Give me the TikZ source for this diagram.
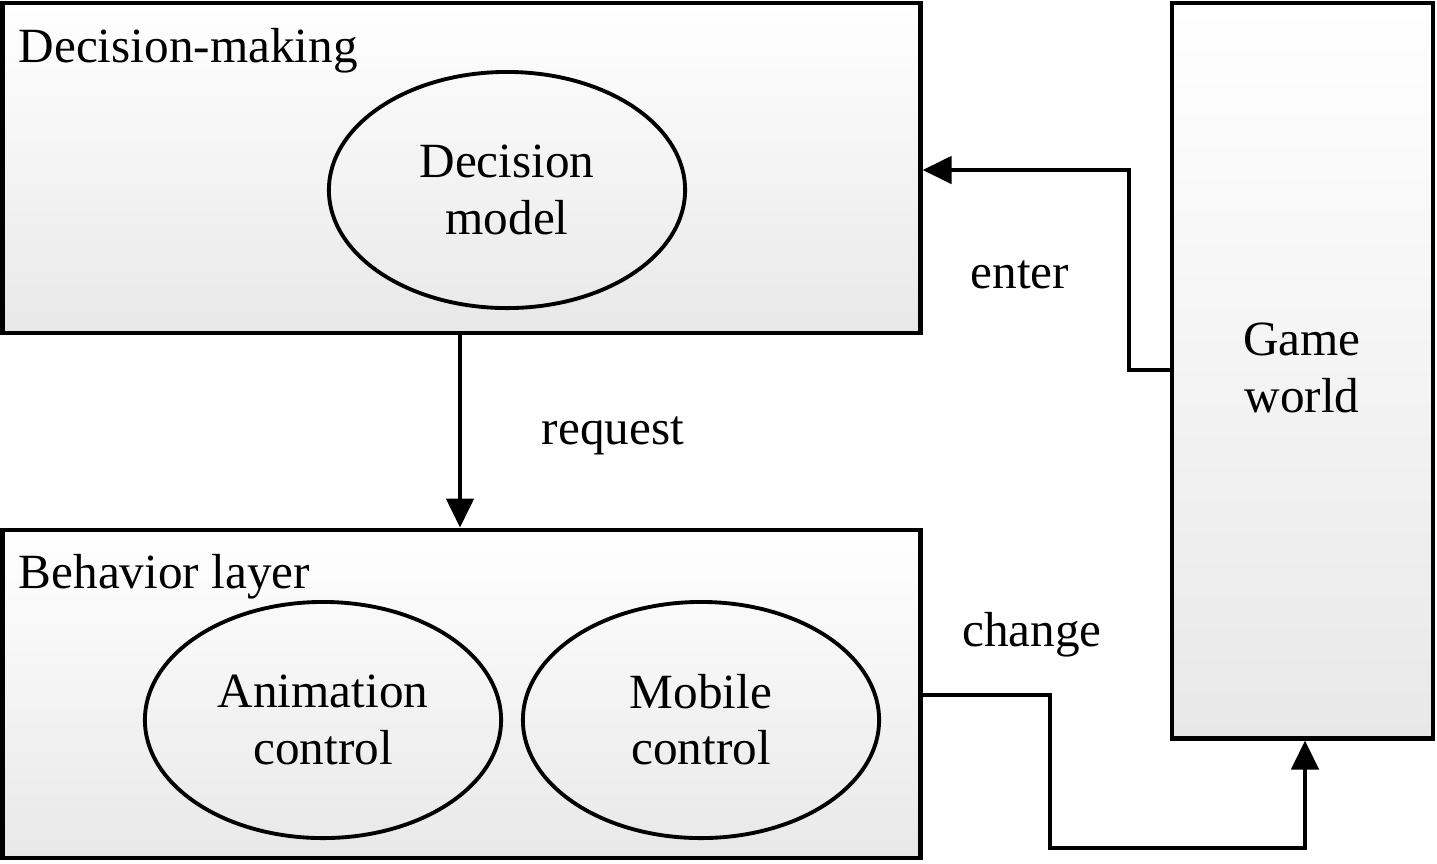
\documentclass[tikz,border=0pt]{standalone}
\usepackage{fontspec}
\setmainfont{Liberation Serif}
\usetikzlibrary{arrows.meta,shapes.geometric}
\begin{document}
\begin{tikzpicture}[x=0.01cm,y=-0.01cm,
  panel/.style={draw=black,line width=1.3pt,top color=white,bottom color=black!9,inner sep=0pt},
  oval/.style={draw=black,ellipse,line width=1.1pt,inner sep=0pt,align=center,minimum width=3.56cm,minimum height=2.36cm,font=\fontsize{14pt}{16pt}\selectfont},
  lbl/.style={font=\fontsize{14pt}{16pt}\selectfont,inner sep=0pt,align=center},
  conn/.style={line width=1.3pt,-{Triangle[length=0.29cm,width=0.27cm]}}]
\useasboundingbox (0,0) rectangle (1437,863);
% panels
\node[panel,minimum width=9.17cm,minimum height=3.30cm] (dm) at (461.5,168) {};
\node[panel,minimum width=9.17cm,minimum height=3.28cm] (bl) at (461.5,694) {};
\node[panel,minimum width=2.61cm,minimum height=7.35cm] (gw) at (1302.5,370.5) {};
% panel titles
\node[lbl,anchor=base west] (dmt) at (18,62) {Decision-making};
\node[lbl,anchor=base west] (blt) at (18,588) {Behavior layer};
\node[lbl] (gwt) at (1302,368) {Game\\world};
% ellipses
\node[oval] (model) at (507,190) {Decision\\model};
\node[oval] (anim) at (323,720) {Animation\\control};
\node[oval] (mob) at (701,720) {Mobile\\control};
% connector labels
\node[lbl] (reqt) at (613,436) {request};
\node[lbl] (entt) at (1020,275) {enter};
\node[lbl] (cht) at (1032,635) {change};
% connectors
\coordinate (req) at (460,0);
\coordinate (e1) at (1129,370);
\coordinate (e2) at (1129,170);
\coordinate (c1) at (1050,695);
\coordinate (c2) at (1050,848);
\coordinate (c3) at (1305,848);
\draw[conn] (dm.south -| req) -- (bl.north -| req);
\draw[conn] (gw.west |- e1) -- (e1) -- (e2) -- (dm.east |- e2);
\draw[conn] (bl.east |- c1) -- (c1) -- (c2) -- (c3) -- (gw.south -| c3);
\end{tikzpicture}
\end{document}
